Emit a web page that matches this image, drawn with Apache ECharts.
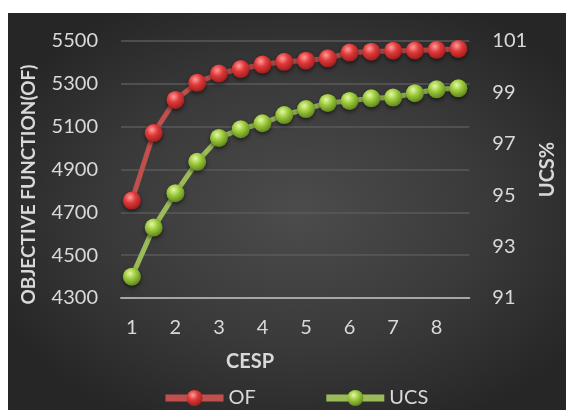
<!DOCTYPE html>
<html>
<head>
<meta charset="utf-8">
<script src="https://cdn.jsdelivr.net/npm/echarts@6/dist/echarts.min.js"></script>
<style>
  html, body { margin: 0; padding: 0; background: #ffffff; }
  #bg { position: absolute; left: 8px; top: 13px; width: 558px; height: 397px;
        background: radial-gradient(ellipse 60% 60% at 52% 50%, #4c4c4c 0%, #3a3a3a 55%, #262626 100%); }
  #chart { position: absolute; left: 0; top: 0; width: 566px; height: 410px; }
</style>
</head>
<body>
<div id="bg"></div>
<div id="chart"></div>
<script>
const categories = ['1', '1.5', '2', '2.5', '3', '3.5', '4', '4.5', '5', '5.5', '6', '6.5', '7', '7.5', '8', '8.5'];
const ofValues = [4755, 5070, 5225, 5305, 5348, 5369, 5390, 5403, 5408, 5419, 5446, 5450, 5455, 5456, 5459, 5463];
const ucsValues = [91.83, 93.74, 95.08, 96.30, 97.23, 97.57, 97.80, 98.12, 98.35, 98.59, 98.67, 98.77, 98.80, 98.97, 99.12, 99.16];
const leftTicks = { min: 4300, max: 5500, step: 200 };
const rightTicks = { min: 91, max: 101, step: 2 };
const seriesNames = ['OF', 'UCS'];
const axisTitles = { x: 'CESP', left: 'OBJECTIVE FUNCTION(OF)', right: 'UCS%' };

const FONT = 'Lato, "Open Sans", sans-serif';
const TXT = '#d9d9d9';

function ball(hi, mid, edge) {
  return {
    type: 'radial', x: 0.4, y: 0.32, r: 0.7,
    colorStops: [
      { offset: 0, color: hi },
      { offset: 0.45, color: mid },
      { offset: 1, color: edge }
    ]
  };
}

const chart = echarts.init(document.getElementById('chart'), null, { renderer: 'canvas' });
chart.setOption({
  backgroundColor: 'transparent',
  animation: false,
  textStyle: { fontFamily: FONT },
  grid: { left: 121, right: 85, top: 41, bottom: 112, containLabel: false },
  xAxis: {
    type: 'category',
    data: categories,
    boundaryGap: true,
    axisLine: { show: true, lineStyle: { color: '#a6a6a6', width: 2 } },
    axisTick: { show: false },
    axisLabel: { interval: 1, color: TXT, fontSize: 20, fontFamily: FONT, margin: 20 },
    splitLine: { show: false }
  },
  yAxis: [
    {
      type: 'value',
      min: leftTicks.min, max: leftTicks.max, interval: leftTicks.step,
      name: axisTitles.left,
      nameLocation: 'middle',
      nameGap: 83,
      nameRotate: 90,
      nameTextStyle: { color: TXT, fontSize: 19, fontWeight: 'bold', fontFamily: FONT, padding: [0, 30, 0, 0] },
      axisLine: { show: false },
      axisTick: { show: false },
      axisLabel: { color: TXT, fontSize: 20, fontFamily: FONT, margin: 23, formatter: function (v) { return String(v); } },
      splitLine: { show: true, lineStyle: { color: '#5a5a5a', width: 1.5 } }
    },
    {
      type: 'value',
      position: 'right',
      min: rightTicks.min, max: rightTicks.max, interval: rightTicks.step,
      name: axisTitles.right,
      nameLocation: 'middle',
      nameGap: 66,
      nameRotate: 90,
      nameTextStyle: { color: TXT, fontSize: 20, fontWeight: 'bold', fontFamily: FONT },
      axisLine: { show: false },
      axisTick: { show: false },
      axisLabel: { color: TXT, fontSize: 20, fontFamily: FONT, margin: 23 },
      splitLine: { show: false }
    }
  ],
  graphic: [
    {
      type: 'text', left: 226, top: 352,
      style: { text: axisTitles.x, fill: TXT, font: 'bold 20px ' + FONT }
    }
  ],
  legend: {
    data: seriesNames,
    bottom: -3,
    left: 157,
    itemWidth: 58,
    itemHeight: 20,
    itemGap: 67,
    lineStyle: { width: 7 },
    textStyle: { color: TXT, fontSize: 20, fontFamily: FONT }
  },
  series: [
    {
      name: seriesNames[0],
      type: 'line',
      yAxisIndex: 0,
      data: ofValues,
      symbol: 'circle',
      symbolSize: 18,
      showSymbol: true,
      showAllSymbol: true,
      lineStyle: { color: '#c0504d', width: 5 },
      itemStyle: {
        color: ball('#ff9c9c', '#e03a3a', '#9e1c1c'),
        borderWidth: 0,
        shadowBlur: 4, shadowColor: 'rgba(0,0,0,0.55)', shadowOffsetY: 2
      }
    },
    {
      name: seriesNames[1],
      type: 'line',
      yAxisIndex: 1,
      data: ucsValues,
      symbol: 'circle',
      symbolSize: 18,
      showSymbol: true,
      showAllSymbol: true,
      lineStyle: { color: '#9bbb59', width: 5 },
      itemStyle: {
        color: ball('#e6f7a8', '#9ccb3c', '#5f841c'),
        borderWidth: 0,
        shadowBlur: 4, shadowColor: 'rgba(0,0,0,0.55)', shadowOffsetY: 2
      }
    }
  ]
});
</script>
</body>
</html>
